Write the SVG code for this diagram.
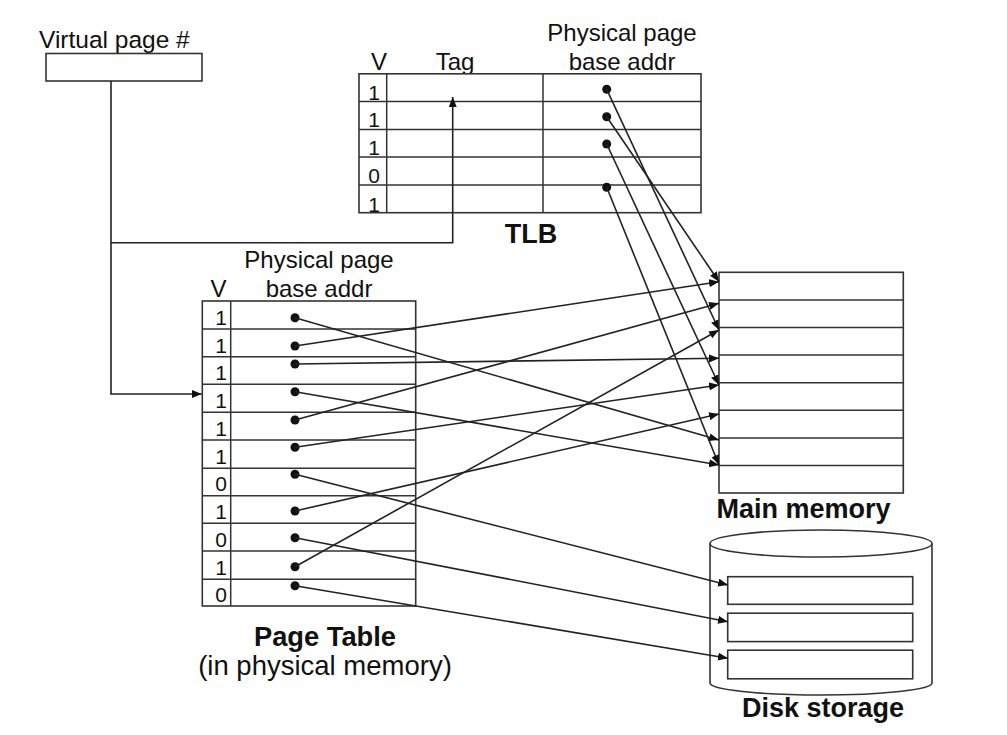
<svg xmlns="http://www.w3.org/2000/svg" width="1007" height="735" viewBox="0 0 1007 735">
<style>
.t{font-family:"Liberation Sans",Arial,sans-serif;font-size:24px;fill:#111}
.v{font-family:"Liberation Sans",Arial,sans-serif;font-size:21px;fill:#111;text-anchor:middle}
.b{font-family:"Liberation Sans",Arial,sans-serif;font-size:27px;font-weight:bold;fill:#111;text-anchor:middle}
.m{text-anchor:middle}
.box{fill:#fff;stroke:#333;stroke-width:1.6}
.ln{fill:none;stroke:#333;stroke-width:1.5}
.c{fill:none;stroke:#222;stroke-width:1.6;marker-end:url(#ah)}
.dot{fill:#111}
</style>
<defs>
<marker id="ah" markerUnits="userSpaceOnUse" markerWidth="11" markerHeight="9" refX="10" refY="4" orient="auto">
<path d="M0,0 L10,4 L0,8 z" fill="#111"/>
</marker>
</defs>
<rect width="1007" height="735" fill="#fff"/>

<g id="vpn">
<text class="t" x="39" y="48" style="font-size:24.5px">Virtual page #</text>
<rect class="box" x="46" y="53.5" width="156" height="27.5"/>
</g>

<g id="tlb">
<text class="t m" x="379" y="69.5">V</text>
<text class="t m" x="455" y="69.5">Tag</text>
<text class="t m" x="622" y="40.5">Physical page</text>
<text class="t m" x="622" y="69.5">base addr</text>
<rect class="box" x="359" y="73.8" width="342" height="138.9"/>
<path class="ln" d="M359,101.6H701M359,129.4H701M359,157.1H701M359,184.9H701M386.7,73.8V212.7M543,73.8V212.7"/>
<text class="v" x="374" y="99.5">1</text>
<text class="v" x="374" y="127">1</text>
<text class="v" x="374" y="155">1</text>
<text class="v" x="374" y="183">0</text>
<text class="v" x="374" y="211.5">1</text>
<circle class="dot" cx="606.7" cy="89.3" r="4.5"/>
<circle class="dot" cx="606.7" cy="116.7" r="4.5"/>
<circle class="dot" cx="606.7" cy="144" r="4.5"/>
<circle class="dot" cx="606.7" cy="187.3" r="4.5"/>
<text class="b" x="531" y="243">TLB</text>
</g>

<g id="pagetable">
<text class="t m" x="218.5" y="296.5">V</text>
<text class="t m" x="319" y="267.5">Physical page</text>
<text class="t m" x="319" y="296.5">base addr</text>
<rect class="box" x="202.3" y="301" width="213.4" height="305"/>
<path class="ln" d="M202.3,329H415.7M202.3,356.7H415.7M202.3,384.3H415.7M202.3,412.3H415.7M202.3,440H415.7M202.3,468.3H415.7M202.3,495.7H415.7M202.3,523.3H415.7M202.3,551H415.7M202.3,579.3H415.7M230.7,301V606"/>
<text class="v" x="221" y="325">1</text>
<text class="v" x="221" y="353">1</text>
<text class="v" x="221" y="380">1</text>
<text class="v" x="221" y="408">1</text>
<text class="v" x="221" y="436">1</text>
<text class="v" x="221" y="463.5">1</text>
<text class="v" x="221" y="491">0</text>
<text class="v" x="221" y="519">1</text>
<text class="v" x="221" y="546.5">0</text>
<text class="v" x="221" y="574.5">1</text>
<text class="v" x="221" y="601.5">0</text>
<circle class="dot" cx="295" cy="317.7" r="4.5"/>
<circle class="dot" cx="295" cy="346" r="4.5"/>
<circle class="dot" cx="295" cy="364" r="4.5"/>
<circle class="dot" cx="295" cy="391.7" r="4.5"/>
<circle class="dot" cx="295" cy="420" r="4.5"/>
<circle class="dot" cx="295" cy="447.3" r="4.5"/>
<circle class="dot" cx="295" cy="474.3" r="4.5"/>
<circle class="dot" cx="295" cy="511" r="4.5"/>
<circle class="dot" cx="295" cy="537.7" r="4.5"/>
<circle class="dot" cx="295" cy="566.7" r="4.5"/>
<circle class="dot" cx="295" cy="585.7" r="4.5"/>
<text class="b" x="325" y="646" style="font-size:27.3px">Page Table</text>
<text class="t m" x="325" y="675" style="font-size:27.5px">(in physical memory)</text>
</g>

<g id="mainmemory">
<rect class="box" x="719" y="272.3" width="184.3" height="220.7"/>
<path class="ln" d="M719,300H903.3M719,327.5H903.3M719,355.1H903.3M719,382.7H903.3M719,410.3H903.3M719,437.9H903.3M719,465.5H903.3"/>
<text class="b" x="803.5" y="518">Main memory</text>
</g>

<g id="disk">
<path class="box" d="M710,543.5V683A111,12 0 0 0 932,683V543.5"/>
<ellipse class="box" cx="821" cy="543.5" rx="111" ry="13.5"/>
<rect class="box" x="727.7" y="576.7" width="185" height="27.6"/>
<rect class="box" x="727.7" y="613.2" width="185" height="28.4"/>
<rect class="box" x="727.7" y="650.2" width="185" height="28.6"/>
<text class="b" x="823" y="717">Disk storage</text>
</g>

<g id="connectors">
<path class="c" d="M111,81V394H201.7"/>
<path class="c" d="M111,242.7H452.7V97"/>
<path class="c" d="M606.7,89.3L719,330"/>
<path class="c" d="M606.7,116.7L719,281.7"/>
<path class="c" d="M606.7,144L719,385"/>
<path class="c" d="M606.7,187.3L719,465"/>
<path class="c" d="M295,317.7L719,440"/>
<path class="c" d="M295,346L719,281.7"/>
<path class="c" d="M295,364L719,358.3"/>
<path class="c" d="M295,391.7L719,465"/>
<path class="c" d="M295,420L719,303.3"/>
<path class="c" d="M295,447.3L719,385"/>
<path class="c" d="M295,474.3L728,585"/>
<path class="c" d="M295,511L719,414"/>
<path class="c" d="M295,537.7L728,621.7"/>
<path class="c" d="M295,566.7L719,330"/>
<path class="c" d="M295,585.7L728,658.3"/>
</g>
</svg>
